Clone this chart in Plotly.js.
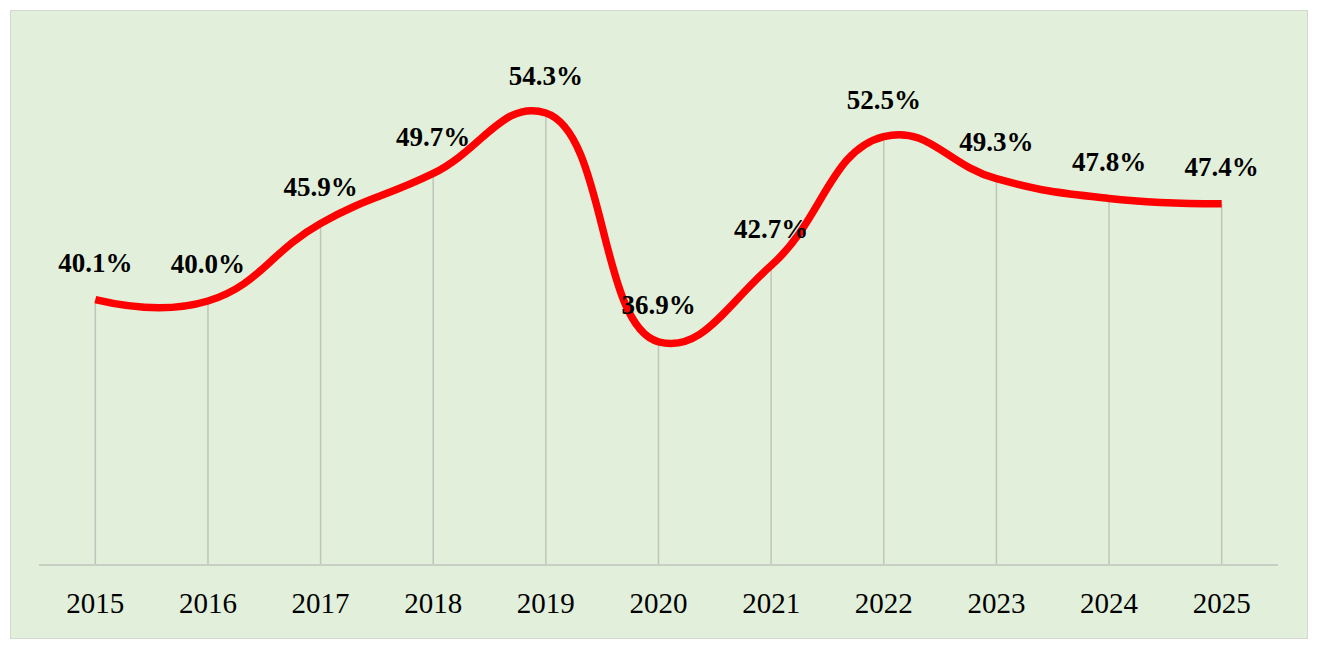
<!DOCTYPE html>
<html>
<head>
<meta charset="utf-8">
<script src="https://cdn.plot.ly/plotly-3.0.1.min.js"></script>
<style>
  html, body { margin:0; padding:0; background:#ffffff; }
  #frame { position:absolute; left:10px; top:10px; width:1296px; height:627px;
           border:1px solid #D4D9D0; background:#E2EFDA; }
  #chart { width:1296px; height:627px; }
</style>
</head>
<body>
<div id="frame"><div id="chart"></div></div>
<script>
const years = ["2015","2016","2017","2018","2019","2020","2021","2022","2023","2024","2025"];
const values = [40.1, 40.0, 45.9, 49.7, 54.3, 36.9, 42.7, 52.5, 49.3, 47.8, 47.4];
const labels = ["40.1%","40.0%","45.9%","49.7%","54.3%","36.9%","42.7%","52.5%","49.3%","47.8%","47.4%"];
const yMin = 20, yMax = 60;

const serif = 'Liberation Serif, serif';

const dropLines = {
  x: years, y: values, type: 'scatter', mode: 'markers',
  marker: { size: 1, opacity: 0 },
  error_y: { type: 'data', symmetric: false,
             array: values.map(() => 0),
             arrayminus: values.map(v => v - yMin),
             width: 0, thickness: 1.5, color: '#BFC5BB' },
  hoverinfo: 'skip', showlegend: false
};

const line = {
  x: years, y: values, type: 'scatter', mode: 'lines',
  line: { color: '#FF0000', width: 7.5, shape: 'spline', smoothing: 1.3 },
  showlegend: false
};

const dataLabels = {
  x: years, y: values, type: 'scatter', mode: 'markers+text',
  marker: { size: 32, color: 'rgba(0,0,0,0)' },
  text: labels.map(t => '<b>' + t + '</b>'),
  textposition: 'top center',
  textfont: { family: serif, size: 27, color: '#000000' },
  hoverinfo: 'skip', showlegend: false, cliponaxis: false
};

const layout = {
  width: 1296, height: 627,
  margin: { l: 28, r: 29, t: 27, b: 74 },
  paper_bgcolor: '#E2EFDA', plot_bgcolor: '#E2EFDA',
  xaxis: {
    type: 'category', range: [-0.5, 10.5],
    showgrid: false, zeroline: false,
    showline: true, linecolor: '#C8CEC4', linewidth: 1.5,
    ticks: 'outside', ticklen: 13, tickcolor: 'rgba(0,0,0,0)',
    tickfont: { family: serif, size: 29, color: '#000000' }
  },
  yaxis: {
    range: [yMin, yMax], visible: false, showgrid: false, zeroline: false
  }
};

Plotly.newPlot('chart', [dropLines, line, dataLabels], layout, { displayModeBar: false, staticPlot: true });
</script>
</body>
</html>
